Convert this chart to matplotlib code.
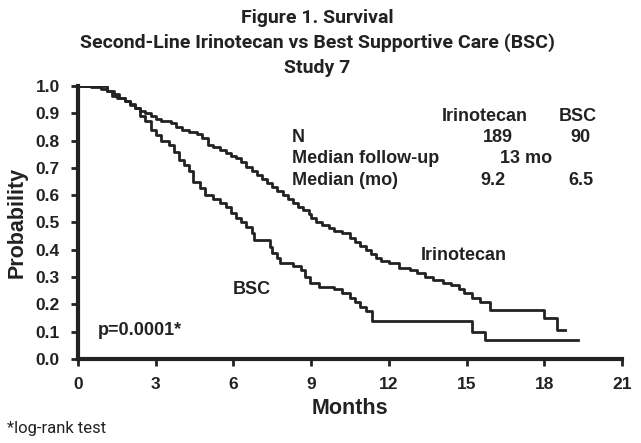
import numpy as np
from matplotlib import pyplot as plt

# Kaplan-Meier step points (months, survival)
iri_t = [0, 0.5, 0.9, 1.1, 1.4, 1.6, 1.8, 2.0, 2.2, 2.4, 2.6, 2.8, 3.0, 3.2, 3.6, 3.8,
         4.0, 4.3, 4.6, 4.8, 5.0, 5.2, 5.5, 5.7, 5.9, 6.1, 6.3, 6.5, 6.7, 6.9, 7.1, 7.3,
         7.5, 7.7, 7.9, 8.1, 8.3, 8.5, 8.7, 8.9, 9.0, 9.2, 9.4, 9.7, 9.9, 10.2, 10.5,
         10.7, 10.9, 11.1, 11.3, 11.5, 11.7, 12.0, 12.4, 12.8, 13.1, 13.4, 13.7, 14.1,
         14.4, 14.7, 14.9, 15.2, 15.5, 15.9, 18.0, 18.5, 18.8]
iri_s = [1.0, 0.995, 0.99, 0.98, 0.97, 0.955, 0.945, 0.93, 0.92, 0.91, 0.90, 0.89, 0.88,
         0.87, 0.865, 0.85, 0.84, 0.83, 0.825, 0.81, 0.785, 0.775, 0.765, 0.755, 0.745,
         0.735, 0.72, 0.705, 0.69, 0.675, 0.66, 0.645, 0.63, 0.615, 0.60, 0.585, 0.57,
         0.555, 0.545, 0.53, 0.515, 0.50, 0.49, 0.48, 0.47, 0.46, 0.445, 0.43, 0.415,
         0.40, 0.385, 0.37, 0.36, 0.35, 0.335, 0.325, 0.315, 0.30, 0.29, 0.28, 0.27,
         0.255, 0.24, 0.225, 0.21, 0.18, 0.15, 0.106, 0.106]

bsc_t = [0, 1.1, 1.3, 1.5, 1.8, 2.0, 2.2, 2.4, 2.6, 2.8, 3.0, 3.2, 3.5, 3.7, 3.9, 4.1,
         4.3, 4.45, 4.7, 4.9, 5.2, 5.5, 5.7, 5.9, 6.1, 6.3, 6.5, 6.7, 6.8, 7.4, 7.5, 7.7,
         7.8, 8.3, 8.6, 8.75, 8.95, 9.3, 9.9, 10.2, 10.5, 10.7, 10.9, 11.1, 11.35, 15.2,
         15.7, 19.3]
bsc_s = [1.0, 0.98, 0.965, 0.955, 0.945, 0.935, 0.92, 0.89, 0.87, 0.84, 0.82, 0.80,
         0.785, 0.76, 0.73, 0.71, 0.69, 0.65, 0.625, 0.60, 0.585, 0.57, 0.555, 0.535,
         0.515, 0.50, 0.485, 0.46, 0.435, 0.41, 0.39, 0.37, 0.35, 0.34, 0.325, 0.30,
         0.28, 0.265, 0.255, 0.24, 0.225, 0.21, 0.19, 0.175, 0.14, 0.10, 0.07, 0.07]

x_ticks = [0, 3, 6, 9, 12, 15, 18, 21]
y_ticks = [0.0, 0.1, 0.2, 0.3, 0.4, 0.5, 0.6, 0.7, 0.8, 0.9, 1.0]

table_cols = ['Irinotecan', 'BSC']
table_rows = ['N', 'Median follow-up', 'Median (mo)']
table_n = ['189', '90']
table_fu = '13 mo'
table_med = ['9.2', '6.5']

narrow = ['DejaVu Sans Condensed', 'Roboto', 'DejaVu Sans']
arial = ['Liberation Sans', 'DejaVu Sans']
ink = '#222222'

fig = plt.figure(figsize=(6.41, 4.43), dpi=100)
ax = fig.add_axes([0.1217, 0.1896, 0.8487, 0.6163])

ax.step(iri_t, iri_s, where='post', color=ink, lw=2)
ax.step(bsc_t, bsc_s, where='post', color=ink, lw=2)

ax.set_xlim(0, 21)
ax.set_ylim(0, 1)
ax.set_xticks(x_ticks)
ax.set_xticklabels([str(v) for v in x_ticks], family=arial, fontweight='bold', fontsize=12.5)
ax.set_yticks(y_ticks)
ax.set_yticklabels([f'{v:.1f}' for v in y_ticks], family=arial, fontweight='bold', fontsize=12.5)
ax.tick_params(direction='out', length=5, width=2, color=ink, labelcolor=ink, pad=8)
for s in ['top', 'right']:
    ax.spines[s].set_visible(False)
for s in ['left', 'bottom']:
    ax.spines[s].set_linewidth(3)
    ax.spines[s].set_color(ink)

ax.set_xlabel('Months', family=arial, fontweight='bold', fontsize=15.5, color=ink, labelpad=4)
ax.set_ylabel('Probability', family=arial, fontweight='bold', fontsize=15.5, color=ink, labelpad=6)

# in-plot annotations
tkw = dict(family=arial, fontweight='bold', fontsize=13, color=ink, va='center')
ax.text(14.9, 0.38, 'Irinotecan', ha='center', **tkw)
ax.text(6.7, 0.256, 'BSC', ha='center', **tkw)
ax.text(0.77, 0.106, 'p=0.0001*', ha='left', **tkw)

ax.text(15.7, 0.89, table_cols[0], ha='center', **tkw)
ax.text(19.3, 0.89, table_cols[1], ha='center', **tkw)
for i, row in enumerate(table_rows):
    ax.text(8.26, [0.813, 0.733, 0.652][i], row, ha='left', **tkw)
ax.text(16.2, 0.813, table_n[0], ha='center', **tkw)
ax.text(19.4, 0.813, table_n[1], ha='center', **tkw)
ax.text(17.3, 0.733, table_fu, ha='center', **tkw)
ax.text(16.0, 0.652, table_med[0], ha='center', **tkw)
ax.text(19.4, 0.652, table_med[1], ha='center', **tkw)

title_kw = dict(family=narrow, fontweight='bold', fontsize=14, color=ink, ha='center', va='center')
fig.text(0.495, 1 - 18 / 443, 'Figure 1. Survival', **title_kw)
fig.text(0.495, 1 - 43 / 443, 'Second-Line Irinotecan vs Best Supportive Care (BSC)', **title_kw)
fig.text(0.495, 1 - 68 / 443, 'Study 7', **title_kw)

fig.text(7 / 641, 1 - 428 / 443, '*log-rank test', family=narrow, fontsize=12, color=ink,
         ha='left', va='center')

fig.savefig('out.png', dpi=100)
